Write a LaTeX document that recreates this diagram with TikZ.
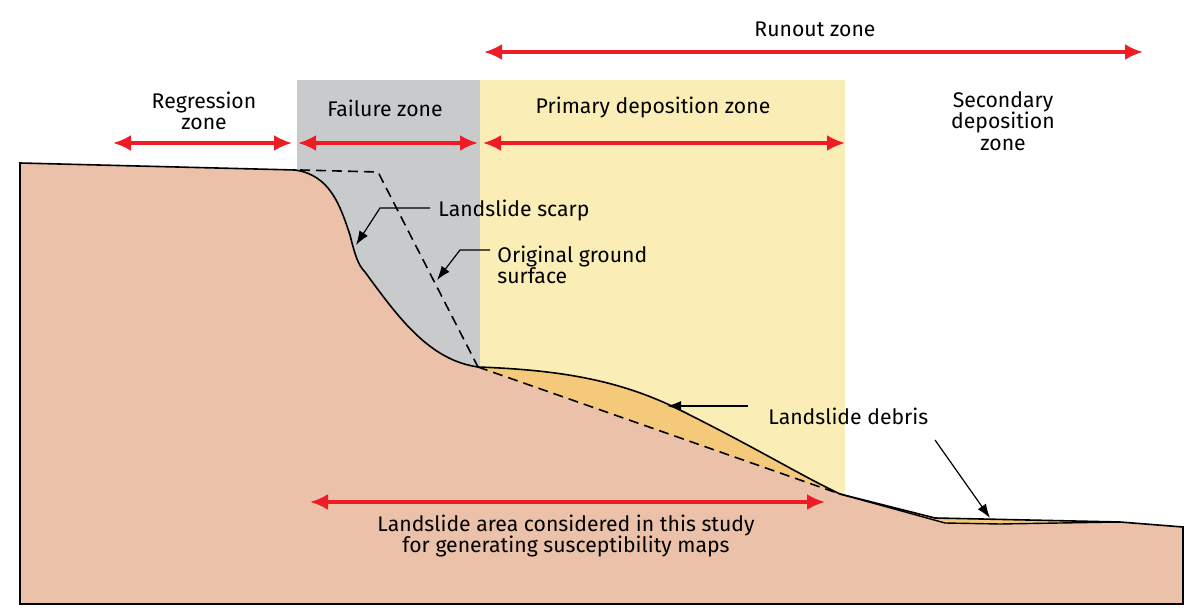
\documentclass[tikz,border=0pt]{standalone}
\usepackage{fontspec}
\setmainfont{Fira Sans}
\usetikzlibrary{arrows.meta}
\definecolor{ground}{HTML}{EBC1A9}
\definecolor{grayz}{HTML}{C9CACC}
\definecolor{yelz}{HTML}{FBEDB6}
\definecolor{debris}{HTML}{F5C97A}
\definecolor{redar}{HTML}{EE1C25}
\begin{document}
\begin{tikzpicture}[x=0.5pt,y=-0.5pt,
  red arrow/.style={draw=redar,line width=1.6pt,{Latex[length=9pt,width=8pt]}-{Latex[length=9pt,width=8pt]}},
  lab/.style={font=\fontsize{10.6}{10.6}\selectfont,align=center,inner sep=0pt},
  leader/.style={draw=black,line width=0.6pt,-{Latex[length=7pt,width=5pt]}}]
\useasboundingbox (0,0) rectangle (1191,615);
\fill[grayz] (297,80) rectangle (480,400);
\fill[yelz] (480,80) rectangle (845,500);
% ground
\fill[ground] (20,163) -- (295,170) .. controls (330,175) and (340,205) .. (350,235)
 .. controls (355,255) and (358,265) .. (365,272) .. controls (400,320) and (430,360) .. (478,367)
 .. controls (560,370) and (620,380) .. (680,410) .. controls (760,450) and (800,475) .. (840,494)
 -- (935,518) -- (1120,522) -- (1183,527) -- (1183,604) -- (20,604) -- cycle;
% debris
\fill[debris] (478,367) .. controls (560,370) and (620,380) .. (680,410) .. controls (760,450) and (800,475) .. (840,494) -- cycle;
\fill[debris] (840,494) -- (935,518) -- (1120,522) -- (1000,524) -- (945,523) -- cycle;
\draw[line width=0.8pt] (20,163) -- (295,170) .. controls (330,175) and (340,205) .. (350,235)
 .. controls (355,255) and (358,265) .. (365,272) .. controls (400,320) and (430,360) .. (478,367)
 .. controls (560,370) and (620,380) .. (680,410) .. controls (760,450) and (800,475) .. (840,494)
 -- (935,518) -- (1120,522) -- (1183,527) -- (1183,604) -- (20,604) -- cycle;
\draw[line width=0.7pt] (840,494) -- (945,523) -- (1000,524) -- (1120,522);
\draw[line width=0.8pt,dash pattern=on 5pt off 3pt] (478,367) -- (840,494);
\draw[line width=0.8pt,dash pattern=on 5pt off 3pt] (300,170) -- (378,172) -- (478,367);
% arrows
\coordinate (r1) at (113,143); \coordinate (r2) at (292,143);
\coordinate (f1) at (298,143); \coordinate (f2) at (478,143);
\coordinate (p1) at (483,143); \coordinate (p2) at (845,143);
\coordinate (u1) at (484,52); \coordinate (u2) at (1143,52);
\coordinate (b1) at (310,502); \coordinate (b2) at (825,502);
\draw[red arrow] (r1) -- (r2);
\draw[red arrow] (f1) -- (f2);
\draw[red arrow] (p1) -- (p2);
\draw[red arrow] (u1) -- (u2);
\draw[red arrow] (b1) -- (b2);
% labels
\node[lab] (reg) at (204,111) {Regression\\zone};
\node[lab] (fail) at (385,108) {Failure zone};
\node[lab] (prim) at (653,107) {Primary deposition zone};
\node[lab] (run) at (815,29) {Runout zone};
\node[lab] (sec) at (1003,121) {Secondary\\deposition\\zone};
\node[lab,anchor=west] (scarp) at (438,210) {Landslide scarp};
\node[lab,anchor=west,align=left] (orig) at (497,265) {Original ground\\surface};
\node[lab,anchor=west] (deb) at (768,416) {Landslide debris};
\node[lab] (area) at (566,536) {Landslide area considered in this study\\for generating susceptibility maps};
\coordinate (s0) at (430,208); \coordinate (s1) at (380,208); \coordinate (s2) at (356,245);
\draw[leader] (s0) -- (s1) -- (s2);
\coordinate (o0) at (490,250); \coordinate (o1) at (460,250); \coordinate (o2) at (437,280);
\draw[leader] (o0) -- (o1) -- (o2);
\coordinate (d0) at (748,406); \coordinate (d1) at (667,406);
\draw[leader] (d0) -- (d1);
\coordinate (e0) at (935,440); \coordinate (e1) at (990,518);
\draw[leader] (e0) -- (e1);
\end{tikzpicture}
\end{document}
